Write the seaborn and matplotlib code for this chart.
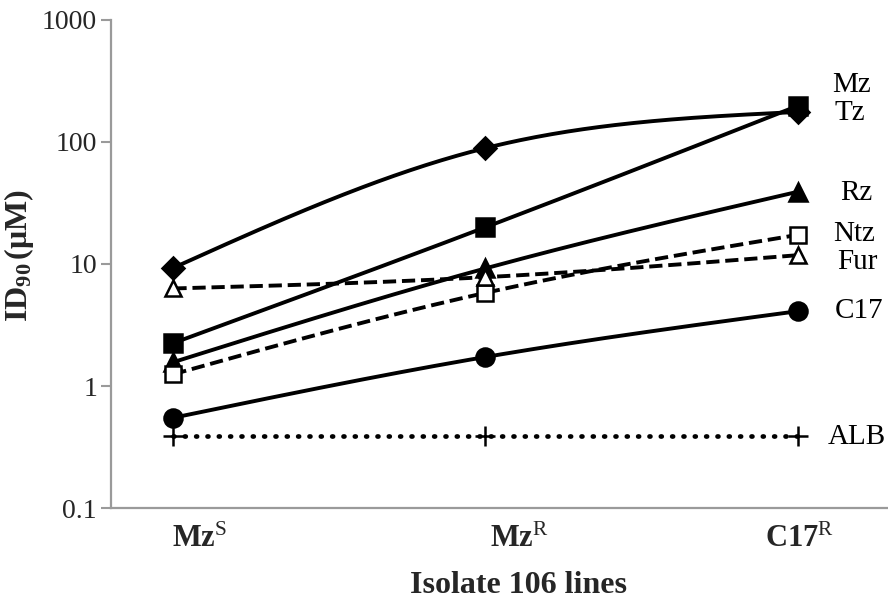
import numpy as np
import pandas as pd
import matplotlib
matplotlib.use("Agg")
import matplotlib.pyplot as plt
import matplotlib.transforms as mtransforms
import seaborn as sns

categories = ["MzS", "MzR", "C17R"]
tick_labels = [r"$\mathbf{Mz}^{\mathrm{S}}$", r"$\mathbf{Mz}^{\mathrm{R}}$", r"$\mathbf{C17}^{\mathrm{R}}$"]
series_names = ["Mz", "Tz", "Rz", "Ntz", "Fur", "C17", "ALB"]
mz = [9.3, 89, 176]
tz = [2.25, 20, 197]
rz = [1.57, 9.2, 39]
ntz = [1.25, 5.8, 17.3]
fur = [6.3, 7.8, 11.8]
c17 = [0.55, 1.73, 4.1]
alb = [0.39, 0.39, 0.39]
values = [mz, tz, rz, ntz, fur, c17, alb]

sns.set_theme(style="white")
plt.rcParams["font.family"] = ["Liberation Serif", "DejaVu Serif"]
plt.rcParams["mathtext.fontset"] = "custom"
plt.rcParams["mathtext.rm"] = "Liberation Serif"
plt.rcParams["mathtext.it"] = "Liberation Serif:italic"
plt.rcParams["mathtext.bf"] = "Liberation Serif:bold"

fig = plt.figure(figsize=(8.88, 6.02), dpi=100)
ax = fig.add_axes([0.125, 0.156, 0.875, 0.811])

styles = {
    "Mz": dict(marker="D", fc="black", ls="-", ms=11, lw=2.8),
    "Tz": dict(marker="s", fc="black", ls="-", ms=13, lw=2.8),
    "Rz": dict(marker="^", fc="black", ls="-", ms=13, lw=2.8),
    "Ntz": dict(marker="s", fc="white", ls=(0, (3.4, 1.5)), ms=11, lw=2.8),
    "Fur": dict(marker="^", fc="white", ls=(0, (3.4, 1.5)), ms=12, lw=2.8),
    "C17": dict(marker="o", fc="black", ls="-", ms=13, lw=2.8),
    "ALB": dict(marker="+", fc="black", ls=(0, (0.2, 2.2)), ms=15, lw=3.4),
}

def spline_curve(xs, ys, n=100):
    # natural cubic spline in log space for equally spaced points
    ly = np.log10(ys)
    m1 = 1.5 * (ly[0] - 2 * ly[1] + ly[2])
    M = [0.0, m1, 0.0]
    xx, yy = [], []
    for i in range(len(xs) - 1):
        t = np.linspace(0, 1, n)
        s = (M[i] * (1 - t) ** 3 / 6 + M[i + 1] * t ** 3 / 6
             + (ly[i] - M[i] / 6) * (1 - t) + (ly[i + 1] - M[i + 1] / 6) * t)
        xx.append(xs[i] + t)
        yy.append(s)
    return np.concatenate(xx), 10 ** np.concatenate(yy)

xpos = np.arange(len(categories))
for name, vals in zip(series_names, values):
    st = styles[name]
    cx, cy = spline_curve(xpos, vals)
    ax.plot(cx, cy, color="black", lw=st["lw"], ls=st["ls"], zorder=2,
            dash_capstyle="round" if name == "ALB" else "butt")
    df = pd.DataFrame({"x": xpos, "y": vals})
    if st["marker"] == "+":
        ax.plot(df["x"], df["y"], ls="none", marker="+", ms=st["ms"], mew=1.8,
                color="black", zorder=3)
    else:
        ax.plot(df["x"], df["y"], ls="none", marker=st["marker"], ms=st["ms"],
                mfc=st["fc"], mec="black", mew=1.8, zorder=3)

ax.set_yscale("log")
ax.set_ylim(0.1, 1000)
ax.set_xlim(-0.2, 2.29)
ax.set_yticks([0.1, 1, 10, 100, 1000])
ax.set_yticklabels(["0.1", "1", "10", "100", "1000"])
ax.minorticks_off()
ax.set_xticks(xpos)
ax.set_xticklabels(tick_labels, fontsize=22)
ax.tick_params(axis="x", length=0, pad=12)
ax.tick_params(axis="y", length=7, width=1.5, color="#9a9a9a", labelsize=20, pad=3, direction="out", left=True)

# shift x tick labels to match reference placement
label_shift_px = [26, 34, 2]
for lbl, dx in zip(ax.get_xticklabels(), label_shift_px):
    lbl.set_transform(lbl.get_transform() + mtransforms.ScaledTranslation(dx / 100, 0, fig.dpi_scale_trans))

for sp in ["top", "right"]:
    ax.spines[sp].set_visible(False)
for sp in ["left", "bottom"]:
    ax.spines[sp].set_color("#9a9a9a")
    ax.spines[sp].set_linewidth(1.6)

ax.set_ylabel(r"$\mathbf{ID_{90}\,(\mu M)}$", fontsize=23)
ax.yaxis.set_label_coords(-0.097, 0.518)
ax.set_xlabel("Isolate 106 lines", fontsize=23, fontweight="bold")
ax.xaxis.set_label_coords(0.525, -0.128)

label_y = {"Mz": 293, "Tz": 173, "Rz": 38, "Ntz": 17.6, "Fur": 10.4, "C17": 4.1, "ALB": 0.38}
label_x = {"Mz": 2.111, "Tz": 2.12, "Rz": 2.136, "Ntz": 2.114, "Fur": 2.127, "C17": 2.12, "ALB": 2.098}
for name in series_names:
    ax.text(label_x[name], label_y[name], name, fontsize=21, va="center", ha="left", color="black")

fig.savefig("out.png", dpi=100)
